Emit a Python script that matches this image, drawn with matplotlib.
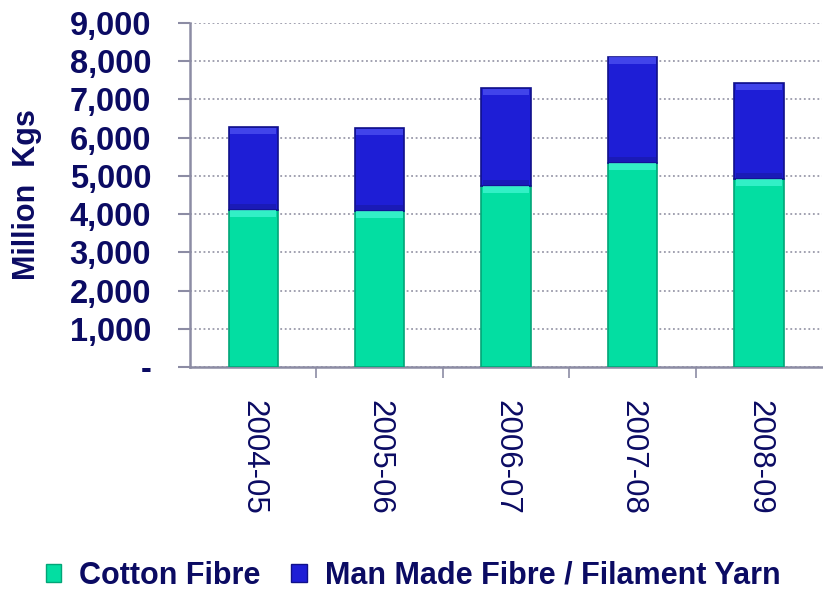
import matplotlib.pyplot as plt
from matplotlib.ticker import FuncFormatter, FixedLocator
from matplotlib.patches import Patch

#  Chart data (Million Kgs)
years = ['2004-05', '2005-06', '2006-07', '2007-08', '2008-09']
cotton_fibre = [4115, 4090, 4745, 5350, 4930]
man_made = [2165, 2160, 2555, 2770, 2500]

navy = '#0b0b63'
axis_grey = '#8c8ca4'
plt.rcParams['font.family'] = ['Liberation Sans', 'DejaVu Sans']

fig = plt.figure(figsize=(8.23, 5.90), dpi=100)
ax = fig.add_axes([0.2309, 0.378, 0.768, 0.583])

x = list(range(len(years)))
width = 0.39

#  Stacked bars
ax.bar(x, cotton_fibre, width, color='#03dea2', edgecolor='#02a577',
       linewidth=1.2, zorder=3)
ax.bar(x, man_made, width, bottom=cotton_fibre, color='#1e1ed6',
       edgecolor='#10108a', linewidth=1.2, zorder=3)

#  Bevel bands at the top of every segment
for i in x:
    ax.bar(i, 170, width * 0.94, bottom=cotton_fibre[i] - 190,
           color='#3ff5d0', alpha=0.8, linewidth=0, zorder=4)
    ax.bar(i, 170, width * 0.94, bottom=cotton_fibre[i] + man_made[i] - 190,
           color='#4a4ef0', alpha=0.8, linewidth=0, zorder=4)
    ax.bar(i, 120, width * 0.94, bottom=cotton_fibre[i] + 20,
           color='#17179a', alpha=0.5, linewidth=0, zorder=4)

#  Axes configuration
ax.set_xlim(-0.5, len(years) - 0.5)
ax.set_ylim(0, 9000)
ax.yaxis.set_major_locator(FixedLocator(range(0, 9001, 1000)))
ax.yaxis.set_major_formatter(FuncFormatter(
    lambda v, p: '-' if v == 0 else '{:,.0f}'.format(v)))
ax.grid(axis='y', linestyle=(0, (1, 1.5)), color='#9a9aaa', linewidth=1.3,
        zorder=0)

ax.set_xticks(x)
ax.set_xticklabels(years, rotation=-90, fontsize=22.5, color=navy)
ax.tick_params(axis='x', which='major', length=0, pad=24)
ax.set_xticks([i + 0.5 for i in x[:-1]], minor=True)
ax.tick_params(axis='x', which='minor', length=8, color=axis_grey, width=1.2)

ax.tick_params(axis='y', labelsize=23.5, labelcolor=navy, length=9,
               color=axis_grey, width=1.5, pad=19)
for lbl in ax.get_yticklabels():
    lbl.set_fontweight('bold')

ax.set_ylabel('Million  Kgs', fontsize=22, fontweight='bold', color=navy)
ax.yaxis.set_label_coords(-0.234, 0.5)

for side in ['top', 'right']:
    ax.spines[side].set_visible(False)
ax.spines['left'].set_color(axis_grey)
ax.spines['left'].set_linewidth(1.8)
ax.spines['bottom'].set_color(axis_grey)
ax.spines['bottom'].set_linewidth(1.8)

#  Legend
handles = [Patch(facecolor='#03dea2', edgecolor='#02a577', label='Cotton Fibre'),
           Patch(facecolor='#1e1ed6', edgecolor='#10108a',
                 label='Man Made Fibre / Filament Yarn')]
leg = fig.legend(handles=handles, loc='center', bbox_to_anchor=(0.502, 0.024),
                 ncol=2, frameon=False, handlelength=0.5, handleheight=0.5,
                 handletextpad=0.6, columnspacing=1.0,
                 prop={'size': 22, 'weight': 'bold'})
for t in leg.get_texts():
    t.set_color(navy)

fig.savefig('out.png', dpi=100)
